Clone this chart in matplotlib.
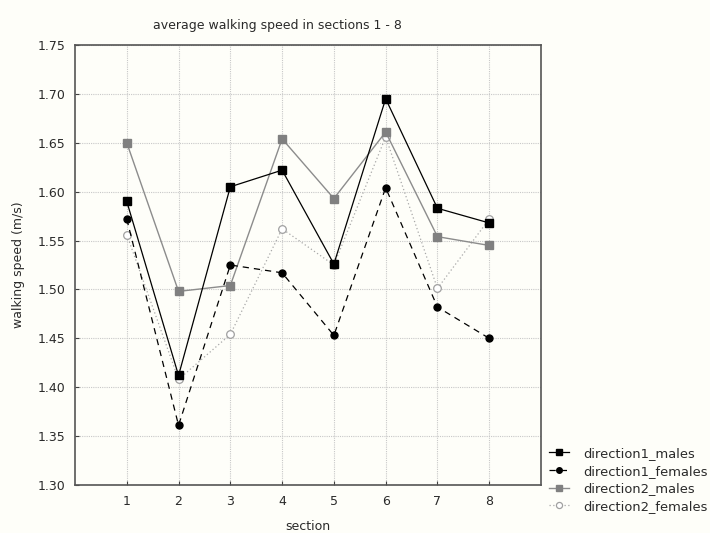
import matplotlib
matplotlib.use("Agg")
from matplotlib import pyplot as plt

plt.rcParams['font.family'] = ['DejaVu Sans']

sections = [1, 2, 3, 4, 5, 6, 7, 8]
d1_males = [1.590, 1.412, 1.605, 1.622, 1.526, 1.695, 1.583, 1.568]
d1_females = [1.572, 1.361, 1.525, 1.517, 1.453, 1.604, 1.482, 1.450]
d2_males = [1.650, 1.498, 1.504, 1.654, 1.593, 1.661, 1.554, 1.545]
d2_females = [1.556, 1.408, 1.454, 1.562, 1.525, 1.656, 1.501, 1.572]
yticks = [1.30, 1.35, 1.40, 1.45, 1.50, 1.55, 1.60, 1.65, 1.70, 1.75]

bg = '#fefef9'
txt = '#2a2a2a'
fs = 9

fig = plt.figure(figsize=(7.1, 5.33), dpi=100, facecolor=bg)
ax = fig.add_axes([75/710, 48/533, 466/710, 440/533], facecolor=bg)

# series
ax.plot(sections, d2_females, color='#a8a8a8', lw=0.9, linestyle=(0, (1, 2)),
        marker='o', ms=5.5, mfc='white', mec='#a0a0a0', mew=0.9, label='direction2_females', zorder=3)
ax.plot(sections, d2_males, color='#8c8c8c', lw=1.0,
        marker='s', ms=6, mfc='#808080', mec='#808080', label='direction2_males', zorder=4)
ax.plot(sections, d1_females, color='black', lw=0.9, linestyle=(0, (5, 4)),
        marker='o', ms=5, mfc='black', mec='black', label='direction1_females', zorder=5)
ax.plot(sections, d1_males, color='black', lw=0.9,
        marker='s', ms=6, mfc='black', mec='black', label='direction1_males', zorder=6)

ax.set_xlim(0, 9)
ax.set_ylim(1.30, 1.75)
ax.set_xticks(sections)
ax.set_yticks(yticks)
ax.set_yticklabels(['%.2f' % v for v in yticks])
ax.grid(True, color='#c8c8c8', linestyle=(0, (1, 1)), lw=0.8)
ax.set_axisbelow(True)
ax.tick_params(direction='in', length=3, width=0.8, colors='#404040', labelcolor=txt,
               labelsize=fs, pad=7)
for s in ax.spines.values():
    s.set_color('#555555')
    s.set_linewidth(1.2)

ax.set_xlabel('section', fontsize=fs, color=txt, labelpad=9)
ax.set_ylabel('walking speed (m/s)', fontsize=fs, color=txt, labelpad=9)
fig.text(277.5/710, 1 - 25/533, 'average walking speed in sections 1 - 8',
         ha='center', va='center', fontsize=fs, color=txt)

# legend outside, bottom right
h, l = ax.get_legend_handles_labels()
order = [3, 2, 1, 0]
fig.legend([h[i] for i in order], [l[i] for i in order], loc='upper left',
           bbox_to_anchor=(549/710, 1 - 447/533), frameon=False, fontsize=9.4,
           handlelength=1.5, handletextpad=1.1, labelspacing=0.35, numpoints=1,
           borderaxespad=0, borderpad=0, labelcolor=txt, markerscale=0.8)

fig.savefig('out.png', dpi=100, facecolor=bg)
